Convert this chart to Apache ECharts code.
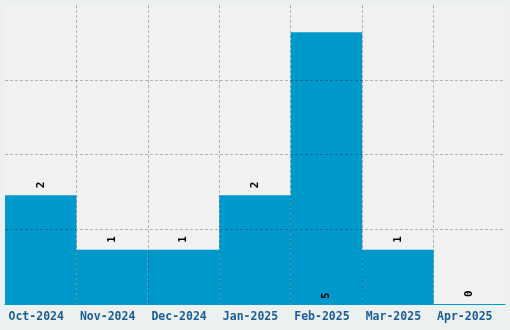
<!DOCTYPE html>
<html>
<head>
<meta charset="utf-8">
<script src="https://cdn.jsdelivr.net/npm/echarts@6/dist/echarts.min.js"></script>
<style>
html,body{margin:0;padding:0;background:#edf0f1;}
#chart{width:510px;height:330px;}
</style>
</head>
<body>
<div id="chart"></div>
<script>
const categories = ['Oct-2024','Nov-2024','Dec-2024','Jan-2025','Feb-2025','Mar-2025','Apr-2025'];
const counts = [2, 1, 1, 2, 5, 1, 0];
const yMin = 0;
const yMax = 5.5;
const yInterval = 1.375;

const barColor = '#0099cc';
const gridDash = { color: 'rgba(0,0,0,0.25)', type: [3, 2], width: 1 };
const labelFont = { fontFamily: 'DejaVu Sans Mono', fontWeight: 'bold', fontSize: 11, color: '#000' };

const data = counts.map((v, i) => {
  const item = { value: v };
  if (v === Math.max(...counts)) {
    item.label = { position: 'insideBottom', distance: 5, align: 'left', verticalAlign: 'middle', rotate: 90 };
  }
  return item;
});

const chart = echarts.init(document.getElementById('chart'), null, { renderer: 'canvas' });
chart.setOption({
  backgroundColor: '#edf0f1',
  animation: false,
  grid: { left: 5, right: 5, top: 5, bottom: 26, show: true, backgroundColor: '#f1f1f1', borderWidth: 0, containLabel: false },
  xAxis: {
    type: 'category',
    data: categories,
    z: 5,
    axisLine: { show: true, lineStyle: { color: barColor, width: 1 } },
    axisTick: { show: false },
    axisLabel: { color: '#1a5e96', fontFamily: 'DejaVu Sans Mono', fontWeight: 'bold', fontSize: 11.5, margin: 7, interval: 0, padding: [0, 9, 0, 0] },
    splitLine: { show: true, interval: 0, showMinLine: false, showMaxLine: false, lineStyle: gridDash }
  },
  yAxis: {
    type: 'value',
    min: yMin, max: yMax, interval: yInterval,
    z: 5,
    axisLine: { show: false },
    axisTick: { show: false },
    axisLabel: { show: false },
    splitLine: { show: true, showMinLine: false, showMaxLine: false, lineStyle: gridDash }
  },
  series: [{
    type: 'bar',
    data: data,
    barCategoryGap: 0,
    itemStyle: { color: barColor },
    label: Object.assign({ show: true, position: 'top', distance: 7, rotate: 90, align: 'left', verticalAlign: 'middle' }, labelFont)
  }]
});
</script>
</body>
</html>
